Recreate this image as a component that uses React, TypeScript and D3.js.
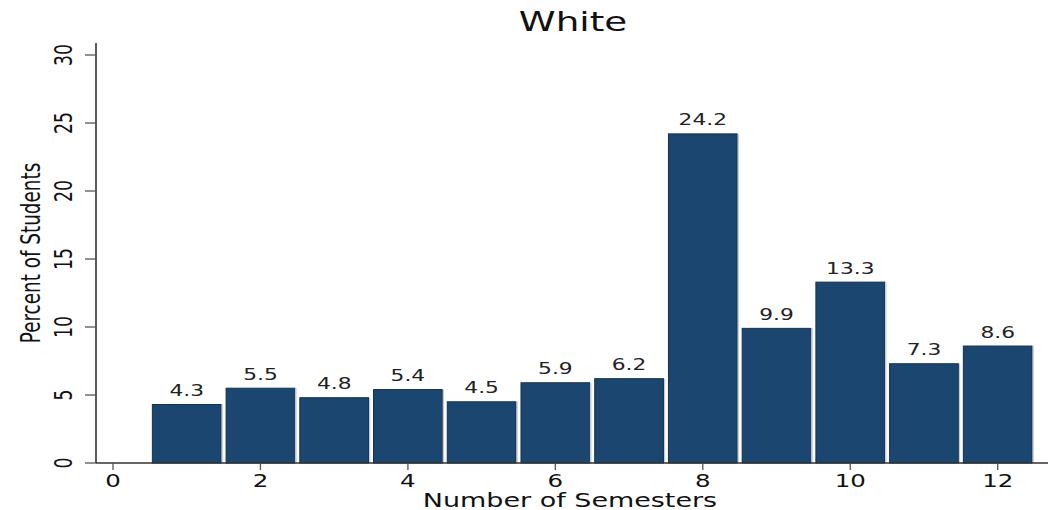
import React from "react";
import * as d3 from "d3";

const semesters = [1, 2, 3, 4, 5, 6, 7, 8, 9, 10, 11, 12];
const percents = [4.3, 5.5, 4.8, 5.4, 4.5, 5.9, 6.2, 24.2, 9.9, 13.3, 7.3, 8.6];
const xTicks = [0, 2, 4, 6, 8, 10, 12];
const yTicks = [0, 5, 10, 15, 20, 25, 30];
const titleText = "White";
const xTitle = "Number of Semesters";
const yTitle = "Percent of Students";

const W = 1056;
const H = 510;
const SX = 1.45;
const FONT = "DejaVu Sans, sans-serif";
const BAR = "#1b4670";

export default function App() {
  const x = d3.scaleLinear().domain([0, 12]).range([113, 997.7]);
  const y = d3.scaleLinear().domain([0, 30]).range([463, 55]);
  const unit = x(1) - x(0);
  const axisLeft = 96;
  const axisRight = 1048;
  const axisTop = 43;

  React.useEffect(() => {
    document.body.style.margin = "0";
  }, []);

  return (
    <svg width={W} height={H} style={{ position: "absolute", left: 0, top: 0, background: "#fff" }} fontFamily={FONT}>
      {/* title */}
      <text transform={`translate(573,31) scale(${SX},1)`} textAnchor="middle" fontSize={25.7} fill="#111">
        {titleText}
      </text>

      {/* bars */}
      {semesters.map((s, i) => (
        <g key={s}>
          <rect
            x={x(s - 0.5) + 2.5}
            y={y(percents[i])}
            width={unit - 5}
            height={y(0) - y(percents[i])}
            fill={BAR}
            stroke="#12324f"
            strokeWidth={1}
          />
          <line x1={x(s + 0.5) - 1.3} x2={x(s + 0.5) - 1.3} y1={y(percents[i])} y2={y(0)} stroke="#c4c8dc" strokeWidth={1.2} />
          <text
            transform={`translate(${x(s)},${y(percents[i]) - 8.5}) scale(${SX},1)`}
            textAnchor="middle"
            fontSize={15}
            fill="#222"
          >
            {percents[i].toFixed(1)}
          </text>
        </g>
      ))}

      {/* y axis */}
      <line x1={axisLeft} x2={axisLeft} y1={axisTop} y2={y(0)} stroke="#333" strokeWidth={1.6} />
      {yTicks.map((t) => (
        <g key={t}>
          <line x1={axisLeft - 11} x2={axisLeft} y1={y(t)} y2={y(t)} stroke="#555" strokeWidth={1.3} />
          <text
            transform={`translate(72,${y(t)}) scale(${SX},1) rotate(-90)`}
            textAnchor="middle"
            fontSize={17.3}
            fill="#111"
          >
            {t}
          </text>
        </g>
      ))}
      <text transform={`translate(40,253) scale(${SX},1) rotate(-90)`} textAnchor="middle" fontSize={18.4} fill="#111">
        {yTitle}
      </text>

      {/* x axis */}
      <line x1={axisLeft} x2={axisRight} y1={y(0)} y2={y(0)} stroke="#333" strokeWidth={1.6} />
      {xTicks.map((t) => (
        <g key={t}>
          <line x1={x(t)} x2={x(t)} y1={y(0)} y2={y(0) + 7} stroke="#555" strokeWidth={1.3} />
          <text transform={`translate(${x(t)},487.3) scale(${SX},1)`} textAnchor="middle" fontSize={16.9} fill="#111">
            {t}
          </text>
        </g>
      ))}
      <text transform={`translate(570,506.5) scale(${SX},1)`} textAnchor="middle" fontSize={18.6} fill="#111">
        {xTitle}
      </text>
    </svg>
  );
}
